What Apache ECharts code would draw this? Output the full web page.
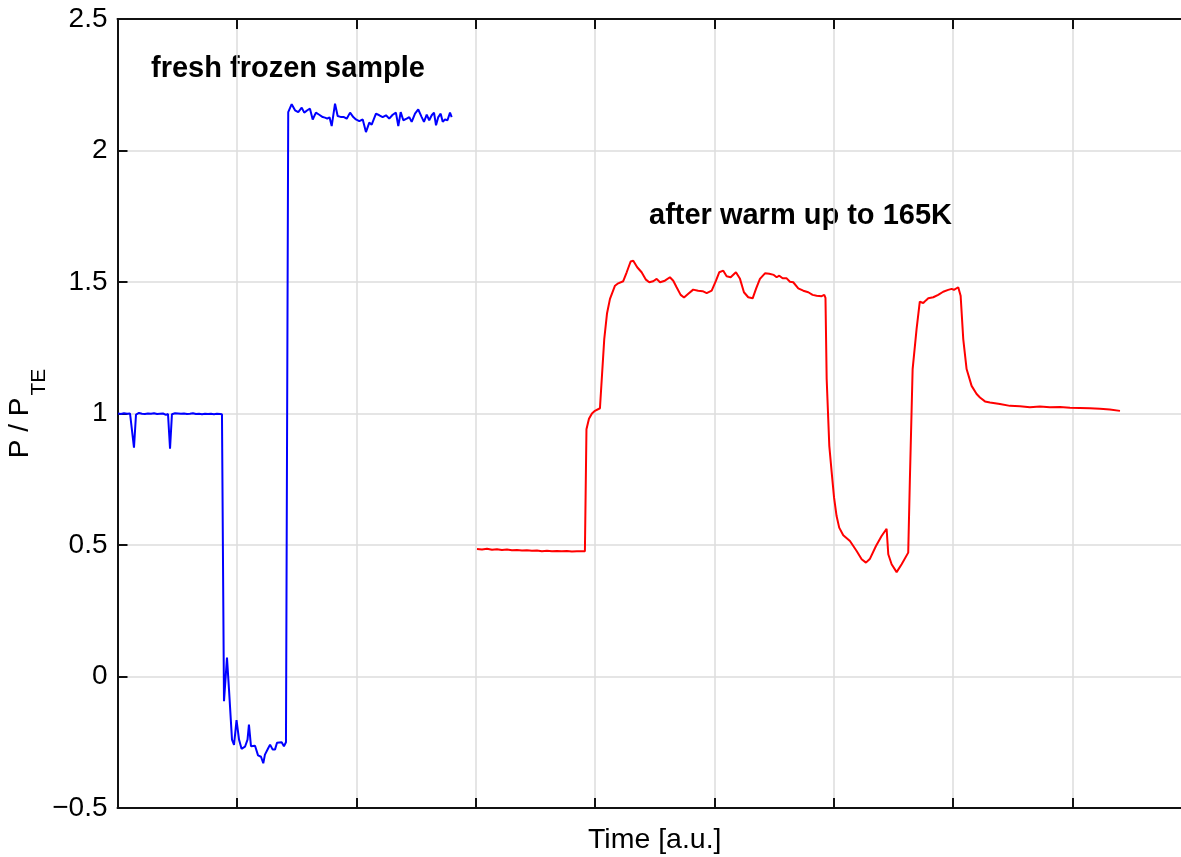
<!DOCTYPE html>
<html>
<head>
<meta charset="utf-8">
<script src="https://cdn.jsdelivr.net/npm/echarts@6/dist/echarts.min.js"></script>
<style>
  html, body { margin: 0; padding: 0; background: #ffffff; }
  #chart { width: 1181px; height: 857px; }
</style>
</head>
<body>
<div id="chart"></div>
<script>
// Polarization relative to thermal equilibrium, time in arbitrary units.
const yTicks = [-0.5, 0, 0.5, 1, 1.5, 2, 2.5];

// Fresh frozen sample
const frozenTime = [
  0.4, 2.9, 5.4, 8.0, 10.5, 12.1, 13.8, 15.5, 18.0, 20.5, 23.0, 25.5, 28.1, 30.6, 33.1, 35.6,
  38.1, 40.6, 42.3, 44.0, 45.6, 48.2, 50.7, 53.2, 55.7, 58.2, 60.7, 63.2, 65.7, 68.3, 70.8,
  73.3, 75.8, 78.3, 80.8, 83.3, 85.8, 87.5, 89.2, 91.7, 93.4, 95.9, 97.6, 99.7, 101.8, 103.9,
  106.8, 108.9, 110.1, 111.8, 115.2, 117.7, 120.2, 122.1, 123.5, 126.0, 127.8, 130.0, 131.9,
  133.6, 137.5, 139.4, 141.1, 142.4, 143.0, 145.9, 148.7, 151.4, 154.3, 156.4, 159.0, 161.2,
  163.5, 166.2, 169.0, 171.9, 173.8, 175.7, 177.6, 179.4, 182.2, 184.4, 187.4, 189.7, 192.0,
  194.8, 197.5, 199.7, 202.5, 205.4, 208.1, 210.9, 212.9, 216.5, 219.3, 222.1, 224.9, 227.6,
  230.5, 233.2, 235.2, 237.2, 239.4, 242.2, 244.4, 246.4, 249.2, 251.9, 254.8, 256.7, 259.0,
  261.1, 263.2, 265.1, 266.8, 268.7, 270.7, 272.4, 274.3, 276.4, 278.5, 279.9
];
const frozenValue = [
  1.000, 0.998, 1.001, 0.999, 1.000, 0.998, 0.870, 0.996, 1.002, 0.999, 0.998, 1.000, 0.999, 1.001, 0.998, 0.999,
  1.000, 0.995, 0.998, 0.866, 0.997, 1.001, 1.000, 0.999, 1.000, 0.998, 0.999, 1.001, 0.998, 0.999, 0.997,
  0.999, 0.998, 0.999, 0.997, 0.999, 0.998, 0.997, -0.094, 0.072, -0.050, -0.240, -0.260, -0.166, -0.240, -0.275,
  -0.267, -0.240, -0.183, -0.265, -0.263, -0.300, -0.305, -0.330, -0.297, -0.275, -0.259, -0.278, -0.278,
  -0.252, -0.250, -0.265, -0.250, -0.255, 2.146, 2.176, 2.153, 2.146, 2.163, 2.144, 2.153, 2.159,
  2.118, 2.144, 2.136, 2.127, 2.125, 2.121, 2.126, 2.093, 2.178, 2.131, 2.127, 2.127, 2.121,
  2.144, 2.127, 2.118, 2.112, 2.118, 2.070, 2.106, 2.098, 2.140, 2.134, 2.127, 2.134, 2.121,
  2.136, 2.144, 2.093, 2.146, 2.115, 2.121, 2.127, 2.109, 2.140, 2.156, 2.127, 2.109, 2.136,
  2.115, 2.134, 2.144, 2.096, 2.127, 2.140, 2.109, 2.118, 2.115, 2.144, 2.127
];

// After warm up to 165K
const warmTime = [
  301.1, 305.3, 309.5, 313.7, 317.8, 322.0, 326.2, 330.4, 334.6, 338.8, 342.9, 347.1, 351.3, 355.5,
  359.7, 363.9, 368.0, 372.2, 376.4, 380.6, 384.8, 391.5, 392.8, 394.9, 397.4, 399.9, 404.1, 407.7,
  410.0, 412.5, 416.7, 419.4, 423.6, 426.5, 429.8, 432.0, 435.3, 439.0, 442.6, 445.4, 448.7, 451.6,
  454.4, 458.5, 462.7, 465.5, 468.3, 471.7, 474.5, 478.1, 482.2, 486.4, 490.1, 493.5, 497.7, 501.3,
  504.0, 507.4, 510.2, 513.6, 518.0, 521.4, 524.7, 528.3, 532.0, 534.8, 538.1, 542.3, 545.9, 549.7,
  552.1, 554.3, 557.1, 560.5, 563.2, 566.0, 570.2, 574.4, 578.6, 582.2, 585.6, 589.8, 592.0, 593.0,
  594.0, 596.2, 598.2, 600.2, 602.3, 604.5, 607.9, 613.5, 619.1, 623.3, 626.9, 630.3, 635.3, 640.0,
  644.2, 645.6, 648.4, 652.6, 656.8, 662.3, 663.7, 666.0, 669.3, 672.0, 674.9, 677.1, 679.1, 683.3,
  687.4, 691.6, 695.8, 698.7, 700.6, 704.2, 706.2, 708.4, 711.2, 715.4, 719.6, 722.4, 726.6, 730.8,
  739.1, 747.5, 755.9, 764.2, 772.6, 781.0, 789.4, 797.8, 806.1, 814.5, 822.9, 831.2, 839.7
];
const warmValue = [
  0.485, 0.483, 0.486, 0.482, 0.484, 0.481, 0.483, 0.480, 0.481, 0.479, 0.480, 0.478, 0.479, 0.476,
  0.478, 0.476, 0.477, 0.476, 0.477, 0.475, 0.476, 0.476, 0.940, 0.980, 1.000, 1.010, 1.020, 1.283,
  1.380, 1.436, 1.486, 1.495, 1.503, 1.537, 1.578, 1.581, 1.556, 1.537, 1.509, 1.499, 1.503, 1.512,
  1.499, 1.505, 1.518, 1.505, 1.480, 1.451, 1.441, 1.455, 1.471, 1.467, 1.465, 1.458, 1.467, 1.505,
  1.537, 1.543, 1.522, 1.518, 1.537, 1.512, 1.461, 1.442, 1.438, 1.474, 1.512, 1.533, 1.531, 1.527,
  1.518, 1.524, 1.514, 1.514, 1.501, 1.499, 1.476, 1.467, 1.461, 1.451, 1.448, 1.446, 1.451, 1.440,
  1.131, 0.877, 0.776, 0.680, 0.610, 0.566, 0.537, 0.515, 0.477, 0.446, 0.433, 0.448, 0.496, 0.534,
  0.562, 0.465, 0.427, 0.397, 0.427, 0.471, 0.750, 1.169, 1.321, 1.425, 1.420, 1.430, 1.438, 1.442,
  1.451, 1.463, 1.470, 1.474, 1.470, 1.480, 1.448, 1.283, 1.169, 1.105, 1.074, 1.061, 1.046, 1.042,
  1.036, 1.029, 1.028, 1.024, 1.027, 1.024, 1.025, 1.022, 1.021, 1.020, 1.018, 1.015, 1.010
];

const zip = (xs, ys) => xs.map((x, i) => [x, ys[i]]);
const FONT = '"Liberation Sans", Arial, Helvetica, sans-serif';

const chart = echarts.init(document.getElementById('chart'), null, { renderer: 'canvas' });

const gridLine = { show: true, lineStyle: { color: '#dcdcdc', width: 1.5 } };
const frameLine = { show: true, onZero: false, lineStyle: { color: '#111111', width: 2 } };
const inTick = { show: true, inside: true, length: 10, lineStyle: { color: '#111111', width: 2 } };

chart.setOption({
  backgroundColor: '#ffffff',
  animation: false,
  grid: {
    left: 117.5, right: -11, top: 19, bottom: 49,
    containLabel: false, outerBoundsMode: 'none'
  },
  xAxis: [
    {
      type: 'value', position: 'bottom', min: 0, max: 900, interval: 100,
      axisLine: frameLine, axisTick: inTick, splitLine: gridLine,
      axisLabel: { show: false },
      name: 'Time [a.u.]', nameLocation: 'middle', nameGap: 18,
      nameTextStyle: { fontFamily: FONT, fontSize: 28.5, color: '#000', verticalAlign: 'top' }
    },
    {
      type: 'value', position: 'top', min: 0, max: 900, interval: 100,
      axisLine: frameLine, axisTick: inTick, splitLine: { show: false },
      axisLabel: { show: false }
    }
  ],
  yAxis: {
    type: 'value', min: yTicks[0], max: yTicks[yTicks.length - 1], interval: 0.5,
    axisLine: frameLine, axisTick: inTick, splitLine: gridLine,
    axisLabel: {
      margin: 10, fontFamily: FONT, fontSize: 28, color: '#000',
      formatter: v => String(v).replace('-', '\u2212')
    },
    name: '{p|P / P}{s|TE}', nameLocation: 'middle', nameRotate: 90, nameGap: 79,
    nameMoveOverlap: false,
    nameTextStyle: {
      rich: {
        p: { fontFamily: FONT, fontSize: 28, color: '#000', verticalAlign: 'top', lineHeight: 32 },
        s: { fontFamily: FONT, fontSize: 21, color: '#000', verticalAlign: 'top', padding: [22, 0, 0, 2], lineHeight: 24 }
      }
    }
  },
  series: [
    {
      name: 'fresh frozen sample', type: 'line', data: zip(frozenTime, frozenValue),
      showSymbol: false, lineStyle: { color: '#0000ff', width: 2 }, itemStyle: { color: '#0000ff' }, z: 3
    },
    {
      name: 'after warm up to 165K', type: 'line', data: zip(warmTime, warmValue),
      showSymbol: false, lineStyle: { color: '#ff0000', width: 2 }, itemStyle: { color: '#ff0000' }, z: 3
    }
  ],
  graphic: [
    {
      type: 'text', left: 151, top: 54,
      style: { text: 'fresh frozen sample', font: 'bold 29px ' + FONT, fill: '#000' }
    },
    {
      type: 'text', left: 649, top: 201,
      style: { text: 'after warm up to 165K', font: 'bold 29px ' + FONT, fill: '#000' }
    }
  ]
});
</script>
</body>
</html>
